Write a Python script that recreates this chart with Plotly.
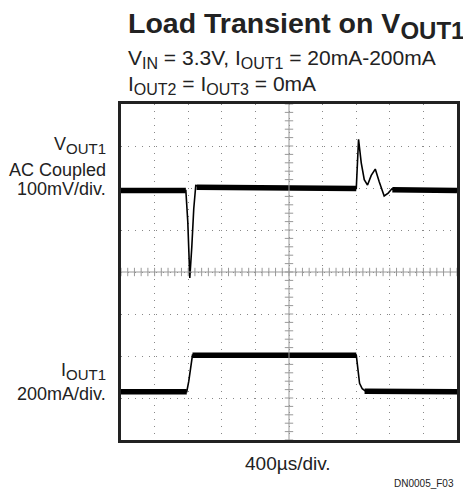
import plotly.graph_objects as go

# time in microseconds (400us/div, 10 div), amplitude in scope divisions
vout_t = [0, 772, 795, 819, 843, 866, 890, 950, 2018, 2801, 2828, 2860, 2896, 2935,
          2979, 3027, 3074, 3133, 3181, 3225, 3323, 4000]
vout_y = [1.94, 1.94, 1.2, -0.14, 0.6, 1.5, 2.06, 2.03, 2.0, 1.99, 3.16, 2.6, 2.2, 2.07,
          2.3, 2.45, 2.15, 1.81, 1.88, 1.98, 1.95, 1.94]

iout_t = [0, 783, 807, 831, 851, 2801, 2819, 2840, 2872, 2908, 4000]
iout_y = [-2.85, -2.85, -2.6, -2.2, -1.98, -1.98, -2.3, -2.65, -2.78, -2.83, -2.85]

# steady-state stretches where the trace is a thick noisy band
vout_band_t = [0, 772, None, 900, 2801, None, 3230, 4000]
vout_band_y = [1.94, 1.94, None, 2.02, 1.99, None, 1.96, 1.94]
iout_band_t = [0, 783, None, 851, 2801, None, 2900, 4000]
iout_band_y = [-2.85, -2.85, None, -1.98, -1.98, None, -2.84, -2.85]

# minor ticks on the centre graticule
minor_x = [i * 80 for i in range(51)]
minor_y = [i * 0.2 - 4 for i in range(41)]

FONT = "Liberation Sans, Arial, sans-serif"
OFF = 8  # page body margin
W, H = 471 - OFF, 498 - OFF
L, T = 121 - OFF, 104 - OFF
R, B = W - (457 - OFF), H - (440 - OFF)
PW, PH = W - L - R, H - T - B


def px(x):
    return (x - OFF - L) / PW


def py(y):
    return (H - B - (y - OFF)) / PH


fig = go.Figure()

# centre cross with minor ticks
fig.add_shape(type="line", x0=2000, x1=2000, y0=-4, y1=4, line=dict(color="#999", width=1))
fig.add_shape(type="line", x0=0, x1=4000, y0=0, y1=0, line=dict(color="#999", width=1))
fig.add_trace(go.Scatter(x=minor_x, y=[0] * len(minor_x), mode="markers",
                         marker=dict(symbol="line-ns", size=6, line=dict(color="#999", width=1)),
                         hoverinfo="skip"))
fig.add_trace(go.Scatter(x=[2000] * len(minor_y), y=minor_y, mode="markers",
                         marker=dict(symbol="line-ew", size=6, line=dict(color="#999", width=1)),
                         hoverinfo="skip"))

for t, y, w in [(vout_t, vout_y, 1.6), (iout_t, iout_y, 1.6),
                (vout_band_t, vout_band_y, 5.5), (iout_band_t, iout_band_y, 5.5)]:
    fig.add_trace(go.Scatter(x=t, y=y, mode="lines", line=dict(color="black", width=w),
                             connectgaps=False, hoverinfo="skip"))

sub = "<sub><span style='font-size:{}px'>{}</span></sub>"
ann = [
    dict(text="<b>Load Transient on V" + sub.format(24, "OUT1") + "</b>", x=px(126), y=py(5),
         font=dict(size=28.5), xanchor="left", yanchor="top"),
    dict(text="V" + sub.format(16, "IN") + " = 3.3V, I" + sub.format(16, "OUT1") + " = 20mA-200mA",
         x=px(126), y=py(44), font=dict(size=21), xanchor="left", yanchor="top"),
    dict(text="I" + sub.format(16, "OUT2") + " = I" + sub.format(16, "OUT3") + " = 0mA",
         x=px(126), y=py(70), font=dict(size=21), xanchor="left", yanchor="top"),
    dict(text="V" + sub.format(15, "OUT1"), x=px(108), y=py(145),
         font=dict(size=18), xanchor="right", yanchor="middle"),
    dict(text="AC Coupled", x=px(108), y=py(170),
         font=dict(size=18), xanchor="right", yanchor="middle"),
    dict(text="100mV/div.", x=px(108), y=py(189),
         font=dict(size=18), xanchor="right", yanchor="middle"),
    dict(text="I" + sub.format(15, "OUT1"), x=px(108), y=py(371),
         font=dict(size=18), xanchor="right", yanchor="middle"),
    dict(text="200mA/div.", x=px(108), y=py(394),
         font=dict(size=18), xanchor="right", yanchor="middle"),
    dict(text="400µs/div.", x=px(288), y=py(463), font=dict(size=19),
         xanchor="center", yanchor="middle"),
    dict(text="DN0005_F03", x=px(456), y=py(483), font=dict(size=10),
         xanchor="right", yanchor="middle"),
]
for a in ann:
    a.update(xref="paper", yref="paper", showarrow=False)
    a["font"].update(family=FONT, color="#222")
    fig.add_annotation(**a)

axis = dict(showline=True, mirror=True, linewidth=2.5, linecolor="#222", ticks="",
            showticklabels=False, zeroline=False, showgrid=True, gridcolor="#888",
            gridwidth=1, griddash="1px,6px", fixedrange=True)
fig.update_xaxes(range=[0, 4000], dtick=400, **axis)
fig.update_yaxes(range=[-4, 4], dtick=1, **axis)

fig.update_layout(width=W, height=H, margin=dict(l=L, r=R, t=T, b=B),
                  paper_bgcolor="white", plot_bgcolor="white", showlegend=False,
                  font=dict(family=FONT))

fig.write_html("out.html")
